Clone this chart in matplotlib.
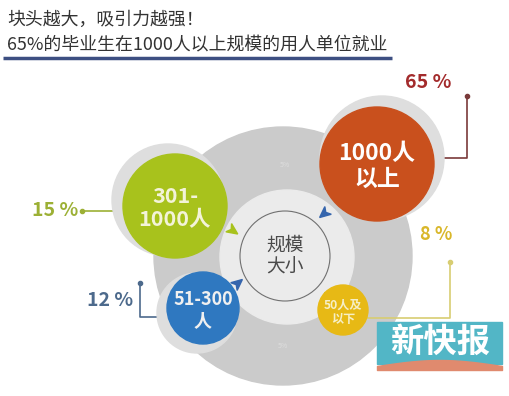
import numpy as np
import matplotlib
matplotlib.use('Agg')
import matplotlib.pyplot as plt
from matplotlib.patches import Circle, Rectangle, Polygon

plt.rcParams['font.family'] = ['Noto Sans CJK SC', 'DejaVu Sans']

# data
title1 = '块头越大，吸引力越强！'
title2 = '65%的毕业生在1000人以上规模的用人单位就业'
center_label = '规模\n大小'
categories = ['1000人\n以上', '301-\n1000人', '51-300\n人', '50人及\n以下']
shares = [65, 15, 12, 8]
ring_labels = ['5%', '5%']
colors = ['#c9501d', '#a8c21c', '#2f78c0', '#e7b915']
pct_colors = ['#a32b2c', '#9cb035', '#4d6a8c', '#d9b72a']
line_colors = ['#7a3a3a', '#9cb035', '#4d6a8c', '#d8cd72']
txt_colors = ['#ffffff', '#f3f3d8', '#f0f0f0', '#f6efc6']

# layout (pixels)
bubble_xy = [(377, 164), (175, 206), (203, 308), (343, 310)]
bubble_r = [57, 52, 36, 25]
halo_off = [(5, -6), (-7, -6), (-6, 5), (0, 0)]
halo_pad = [5, 4, 4, 0]
bubble_fs = [16.5, 15.5, 13, 8.7]
pct_xy = [(428, 83), (55, 211), (110, 300), (436, 235)]
pct_fs = [14, 14, 14, 13]
leader = [
    [(467, 96), (467, 158), (432, 158)],
    [(82, 211), (123, 211)],
    [(140, 283), (140, 317), (170, 317)],
    [(450, 262), (450, 318), (368, 318)],
]

fig = plt.figure(figsize=(5.1, 3.96), dpi=100)
ax = fig.add_axes([0, 0, 1, 1])
ax.set_xlim(0, 510)
ax.set_ylim(396, 0)
ax.set_aspect('equal')
ax.axis('off')

# title
ax.text(7, 20, title1, fontsize=12.9, color='#333333', va='center')
ax.text(7, 45, title2, fontsize=12.9, color='#333333', va='center')
ax.plot([3, 392], [58, 58], color='#3d4f82', lw=2.5, solid_capstyle='butt')

# big ring
ax.add_patch(Circle((283, 256), 129, color='#cbcbcb', zorder=1))
ax.add_patch(Circle((287, 257), 67, color='#ebebeb', zorder=2))
ax.add_patch(Circle((285, 256), 45, fc='none', ec='#707070', lw=0.8, zorder=3))
ax.text(285, 256, center_label, fontsize=13.5, color='#4a4a4a', ha='center',
        va='center', linespacing=1.1, zorder=4)
ax.text(285, 165, ring_labels[0], fontsize=5, color='#dedede', ha='center', va='center', zorder=2)
ax.text(283, 346, ring_labels[1], fontsize=5, color='#dedede', ha='center', va='center', zorder=2)

# arrowheads around the centre
def arrow_head(x, y, ang, c):
    a = np.deg2rad(ang)
    pts = np.array([[7, 0], [-4, 5], [-1, 0], [-4, -5]], float)
    rot = np.array([[np.cos(a), -np.sin(a)], [np.sin(a), np.cos(a)]])
    pts = pts @ rot.T + [x, y]
    ax.add_patch(Polygon(pts, closed=True, color=c, zorder=4))

arrow_head(232, 230, 35, '#a8c21c')
arrow_head(325, 213, 140, '#3565ad')
arrow_head(237, 284, -40, '#3565ad')
arrow_head(330, 297, -140, '#a8c21c')

# bubbles
for i, cat in enumerate(categories):
    x, y = bubble_xy[i]
    r = bubble_r[i]
    dx, dy = halo_off[i]
    if halo_pad[i]:
        ax.add_patch(Circle((x + dx, y + dy), r + halo_pad[i], color='#dedede', zorder=5 + i * 2))
    ax.add_patch(Circle((x, y), r, color=colors[i], zorder=6 + i * 2))
    ax.text(x, y + 2, cat, fontsize=bubble_fs[i], fontweight='bold', color=txt_colors[i],
            ha='center', va='center', linespacing=1.15, zorder=6 + i * 2)

# percentages and leader lines
for i, p in enumerate(shares):
    pts = np.array(leader[i])
    ax.plot(pts[:, 0], pts[:, 1], color=line_colors[i], lw=1.2, zorder=3)
    ax.plot(pts[0, 0], pts[0, 1], 'o', ms=3, color=line_colors[i], zorder=3)
    ax.text(pct_xy[i][0], pct_xy[i][1], f'{p} %', fontsize=pct_fs[i], fontweight='bold',
            color=pct_colors[i], ha='center', va='center', zorder=20)

# logo
ax.add_patch(Rectangle((377, 322), 125, 42, color='#52b6c6', zorder=20))
xs = np.linspace(377, 502, 60)
ys = 366 - 6 * np.sin(np.linspace(0, np.pi, 60))
ax.fill_between(xs, ys, 370, color='#e08a6e', zorder=20)
ax.text(440, 342, '新快报', fontsize=24, fontweight='bold', color='white',
        ha='center', va='center', zorder=21)

fig.savefig('out.png', dpi=100)
